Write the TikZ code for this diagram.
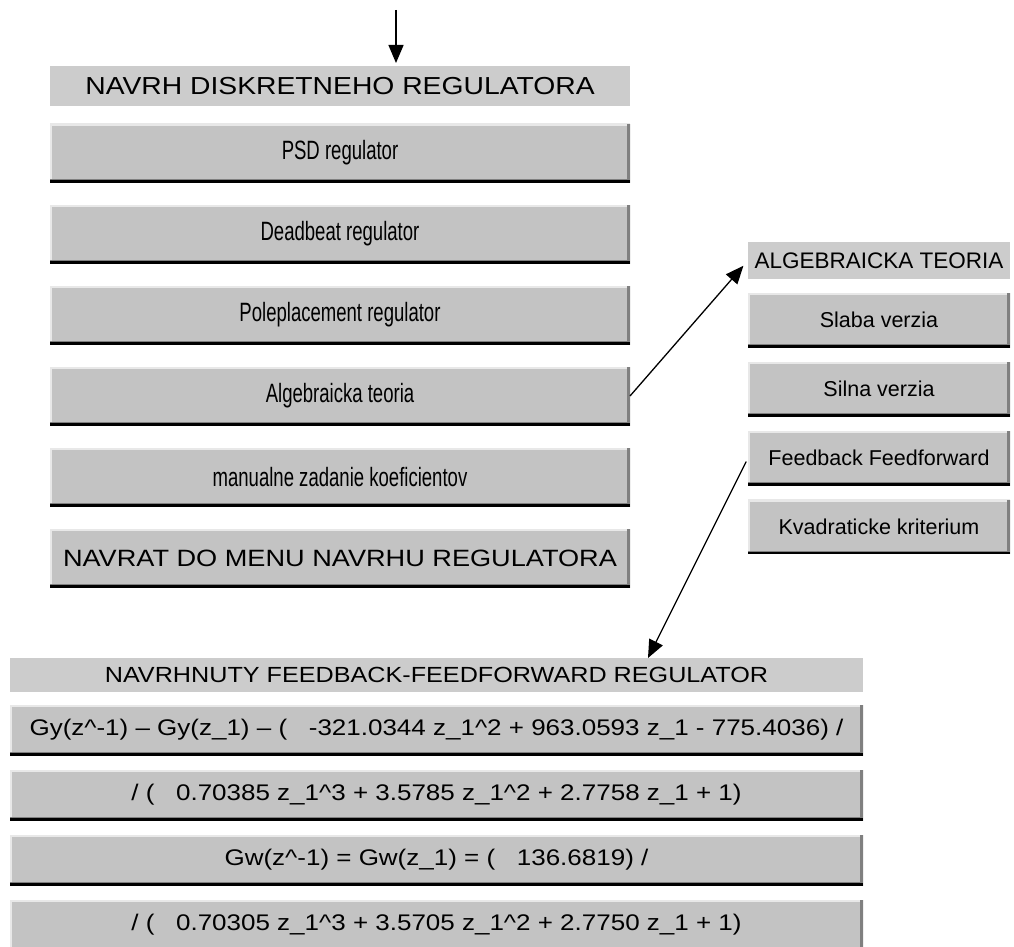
\documentclass[tikz,border=0pt]{standalone}
\usepackage{fontspec}
\setmainfont{Liberation Sans}
\newfontfamily\widefont[FakeStretch=1.15]{Liberation Sans}
\newfontfamily\narrowfont[FakeStretch=0.7]{Liberation Sans}
\usetikzlibrary{arrows.meta}
\definecolor{btnface}{HTML}{C3C3C3}
\definecolor{bandgray}{HTML}{CCCCCC}
\definecolor{shadowgray}{HTML}{808080}
\definecolor{lightedge}{HTML}{E8E8E8}

\begin{document}
\begin{tikzpicture}[x=1pt,y=-1pt,>={Triangle[length=18pt,width=15pt]},
  band/.style={fill=bandgray,inner sep=0pt,outer sep=0pt},
  btn/.style={fill=btnface,inner sep=0pt,outer sep=0pt,
    path picture={
      \draw[lightedge,line width=4pt] (path picture bounding box.south west) -- (path picture bounding box.north west) -- (path picture bounding box.north east);
      \draw[shadowgray,line width=6pt] (path picture bounding box.south west) -- (path picture bounding box.south east) -- (path picture bounding box.north east);
      \draw[black,line width=4pt] (path picture bounding box.south west) -- (path picture bounding box.south east);
    }},
  leftbtn/.style={btn,minimum width=580pt,minimum height=58pt,font=\narrowfont\fontsize{26.5}{28}\selectfont},
  rightbtn/.style={btn,minimum width=262pt,minimum height=54pt,font=\fontsize{21.5}{24}\selectfont},
  formula/.style={btn,minimum width=853pt,minimum height=50pt,font=\widefont\fontsize{22.6}{25}\selectfont},
  link/.style={->,line width=1.3pt}]
\useasboundingbox (0,0) rectangle (1014,947);

% main menu
\node[band,minimum width=580pt,minimum height=40pt,font=\widefont\fontsize{24.6}{26}\selectfont] (navrh) at (340,86) {NAVRH DISKRETNEHO REGULATORA};
\node[leftbtn] (psd) at (340,153) {PSD regulator};
\node[leftbtn] (deadbeat) at (340,234) {Deadbeat regulator};
\node[leftbtn] (pole) at (340,315) {Poleplacement regulator};
\node[leftbtn] (alg) at (340,396) {Algebraicka teoria};
\node[leftbtn] (manual) at (340,477) {manualne zadanie koeficientov};
\node[leftbtn,font=\widefont\fontsize{23.6}{26}\selectfont] (back) at (340,558) {NAVRAT DO MENU NAVRHU REGULATORA};

% submenu
\node[band,minimum width=262pt,minimum height=37pt,font=\fontsize{22.5}{24}\selectfont] (algmenu) at (879,260.5) {ALGEBRAICKA TEORIA};
\node[rightbtn] (slaba) at (879,320) {Slaba verzia};
\node[rightbtn] (silna) at (879,389) {Silna verzia};
\node[rightbtn] (fbff) at (879,458) {Feedback Feedforward};
\node[rightbtn] (kvadr) at (879,526.5) {Kvadraticke kriterium};

% result
\node[band,minimum width=853pt,minimum height=34pt,font=\widefont\fontsize{21.9}{24}\selectfont] (result) at (436.5,675) {NAVRHNUTY FEEDBACK-FEEDFORWARD REGULATOR};
\node[formula] (gy) at (436.5,730) {Gy(z\textasciicircum-1) \textendash{} Gy(z\_1) \textendash{} (\ \ \ -321.0344 z\_1\textasciicircum2 + 963.0593 z\_1 - 775.4036) /};
\node[formula] (gyden) at (436.5,795) {/ (\ \ \ 0.70385 z\_1\textasciicircum3 + 3.5785 z\_1\textasciicircum2 + 2.7758 z\_1 + 1)};
\node[formula] (gw) at (436.5,860) {Gw(z\textasciicircum-1) = Gw(z\_1) = (\ \ \ 136.6819) /};
\node[formula] (gwden) at (436.5,925) {/ (\ \ \ 0.70305 z\_1\textasciicircum3 + 3.5705 z\_1\textasciicircum2 + 2.7750 z\_1 + 1)};

% arrows
\coordinate (start) at (396,10);
\draw[link,shorten >=3pt] (start) -- (start |- navrh.north);
\draw[link,shorten >=7pt] (alg.east) -- (algmenu.west);
\draw[link,shorten <=4pt] (fbff.west) -- ([xshift=211.5pt]result.north);
\end{tikzpicture}
\end{document}
